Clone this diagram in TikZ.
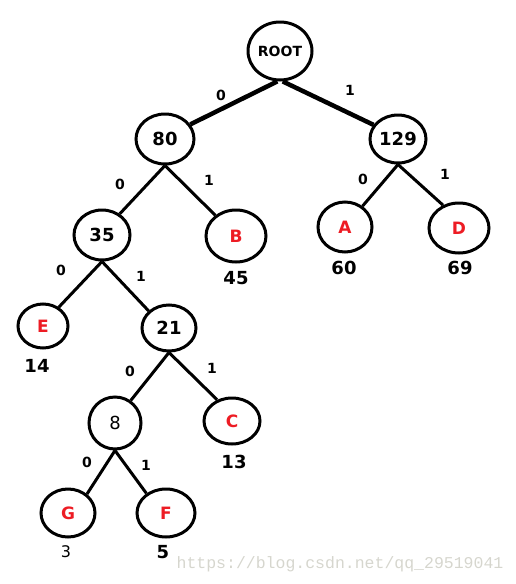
\documentclass[tikz,border=0pt]{standalone}
\usepackage{fontspec}
\setmainfont{DejaVu Sans}
\newfontfamily\wmfont{Liberation Mono}
\usetikzlibrary{shapes.geometric}
\definecolor{lred}{RGB}{237,28,36}
\definecolor{wmgray}{RGB}{214,214,206}
\tikzset{
  tnode/.style={ellipse, draw=black, line width=3pt, inner sep=0pt, font=\bfseries\fontsize{18}{18}\selectfont},
  lnode/.style={tnode, text=lred, font=\bfseries\fontsize{17}{17}\selectfont},
  edge/.style={line width=3pt},
  redge/.style={line width=4.5pt},
  elab/.style={font=\bfseries\fontsize{14}{14}\selectfont},
  wlab/.style={font=\bfseries\fontsize{18}{18}\selectfont},
}
\begin{document}
\begin{tikzpicture}[x=1pt,y=-1pt]
\useasboundingbox (0,0) rectangle (516,584);
\node[tnode, minimum width=64pt, minimum height=58pt, font=\bfseries\fontsize{14}{14}\selectfont] (root) at (280,51) {ROOT};
\node[tnode, minimum width=58pt, minimum height=50pt] (n80) at (165,139) {80};
\node[tnode, minimum width=56pt, minimum height=48pt] (n129) at (398,139) {129};
\node[tnode, minimum width=56pt, minimum height=50pt] (n35) at (102,235) {35};
\node[lnode, minimum width=60pt, minimum height=52pt] (B) at (236,236) {B};
\node[lnode, minimum width=54pt, minimum height=50pt] (A) at (345,227) {A};
\node[lnode, minimum width=60pt, minimum height=50pt] (D) at (459,228) {D};
\node[lnode, minimum width=50pt, minimum height=44pt] (E) at (43,326) {E};
\node[tnode, minimum width=54pt, minimum height=46pt] (n21) at (169,328) {21};
\node[tnode, minimum width=52pt, minimum height=52pt, font=\fontsize{18}{18}\selectfont] (n8) at (115,423) {8};
\node[lnode, minimum width=56pt, minimum height=46pt] (C) at (232,421) {C};
\node[lnode, minimum width=54pt, minimum height=48pt] (G) at (68,513) {G};
\node[lnode, minimum width=58pt, minimum height=48pt] (F) at (166,513) {F};

\draw[redge] (root.265) -- (n80.30);
\draw[redge] (root.275) -- (n129.150);
\draw[edge] (n80.270) -- (n35.50);
\draw[edge] (n80.270) -- (B.135);
\draw[edge] (n129.270) -- (A.50);
\draw[edge] (n129.270) -- (D.125);
\draw[edge] (n35.270) -- (E.50);
\draw[edge] (n35.270) -- (n21.140);
\draw[edge] (n21.270) -- (n8.55);
\draw[edge] (n21.270) -- (C.125);
\draw[edge] (n8.270) -- (G.45);
\draw[edge] (n8.270) -- (F.135);

\node[elab] (l1) at (221,95) {0};
\node[elab] (l2) at (350,90) {1};
\node[elab] (l3) at (120,184) {0};
\node[elab] (l4) at (209,180) {1};
\node[elab] (l5) at (363,179) {0};
\node[elab] (l6) at (445,174) {1};
\node[elab] (l7) at (61,270) {0};
\node[elab] (l8) at (141,276) {1};
\node[elab] (l9) at (130,371) {0};
\node[elab] (l10) at (212,368) {1};
\node[elab] (l11) at (87,462) {0};
\node[elab] (l12) at (146,465) {1};

\node[wlab] (w45) at (236,278) {45};
\node[wlab] (w60) at (344,268) {60};
\node[wlab] (w69) at (460,268) {69};
\node[wlab] (w14) at (37,366) {14};
\node[wlab] (w13) at (234,462) {13};
\node[wlab, font=\fontsize{16}{16}\selectfont] (w3) at (66,552) {3};
\node[wlab] (w5) at (163,552) {5};

\node[text=wmgray, font=\wmfont\fontsize{16.5}{16.5}\selectfont] (wm) at (340,564) {https://blog.csdn.net/qq\_29519041};
\end{tikzpicture}
\end{document}
